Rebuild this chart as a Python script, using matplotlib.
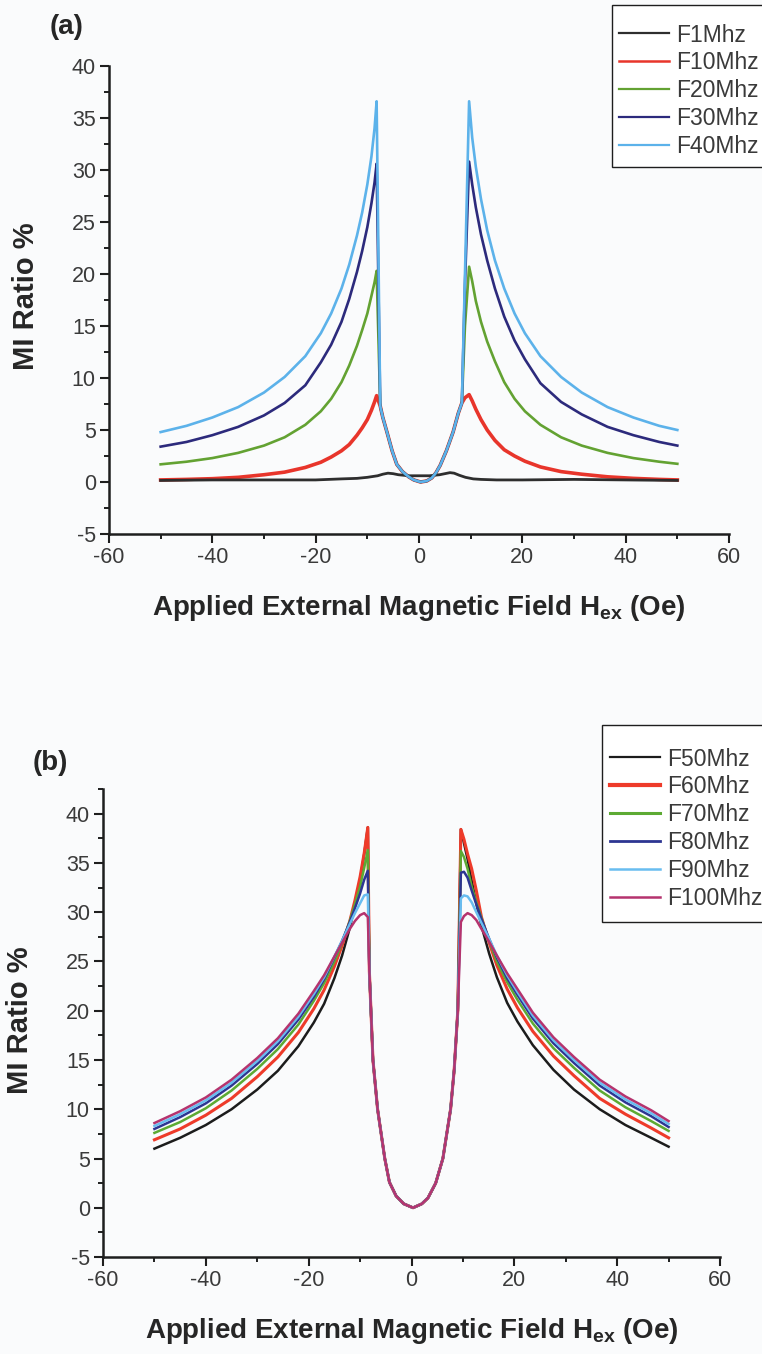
import matplotlib
matplotlib.use("Agg")
import matplotlib.pyplot as plt
from matplotlib.ticker import MultipleLocator
from matplotlib.lines import Line2D
from matplotlib.patches import Rectangle

plt.rcParams["font.family"] = ["Liberation Sans", "DejaVu Sans"]
plt.rcParams["axes.unicode_minus"] = False
plt.rcParams["mathtext.fontset"] = "custom"
plt.rcParams["mathtext.rm"] = "Liberation Sans"
plt.rcParams["mathtext.bf"] = "Liberation Sans:bold"

# ---------------- panel (a): 1-40 MHz ----------------
a_labels = ["F1Mhz", "F10Mhz", "F20Mhz", "F30Mhz", "F40Mhz"]
a_colors = ["#2e2e2e", "#e8352b", "#63a232", "#2c2a7c", "#5cb2ea"]

# left wing, central dip and right wing field values (Oe)
a_left_x = [-50, -45, -40, -35, -30, -26, -22, -19, -17, -15, -13.5, -12, -11, -10, -9.2, -8.6, -8.2]
a_dip_x = [-7.5, -7.0, -6.2, -5.2, -4.3, -3.2, -2.0, -1.0, 0.3, 1.5, 2.5, 3.3, 4.1, 5.3, 6.6, 7.6, 8.3]
a_right_x = [8.9, 9.7, 10.3, 11.0, 12.0, 13.2, 14.7, 16.5, 18.5, 20.5, 23.5, 27.5, 31.5, 36.5, 41.5, 46.5, 50]

a_dip = [7.3, 6.2, 4.8, 3.0, 1.7, 1.0, 0.5, 0.2, 0.0, 0.1, 0.4, 0.9, 1.6, 3.0, 4.8, 6.6, 7.6]

f10_left = [0.2, 0.25, 0.32, 0.45, 0.7, 0.95, 1.4, 1.9, 2.4, 3.0, 3.6, 4.5, 5.2, 6.0, 6.9, 7.7, 8.3]
f20_left = [1.7, 1.95, 2.3, 2.8, 3.5, 4.3, 5.5, 6.8, 8.0, 9.6, 11.2, 13.1, 14.6, 16.2, 17.9, 19.2, 20.3]
f30_left = [3.4, 3.85, 4.5, 5.3, 6.4, 7.6, 9.3, 11.5, 13.2, 15.4, 17.6, 20.2, 22.2, 24.5, 26.8, 28.8, 30.6]
f40_left = [4.8, 5.4, 6.2, 7.2, 8.6, 10.1, 12.1, 14.3, 16.2, 18.6, 20.9, 23.7, 25.9, 28.6, 31.3, 34.0, 36.6]

f10_right = [8.1, 8.4, 7.8, 7.0, 6.0, 5.0, 4.0, 3.1, 2.5, 2.0, 1.45, 1.0, 0.75, 0.5, 0.35, 0.25, 0.2]
f20_right = [15.0, 20.7, 19.3, 17.4, 15.4, 13.5, 11.6, 9.6, 8.0, 6.8, 5.5, 4.3, 3.5, 2.8, 2.3, 1.95, 1.75]
f30_right = [19.0, 30.8, 28.6, 26.4, 23.8, 21.3, 18.6, 15.9, 13.6, 11.8, 9.5, 7.7, 6.5, 5.3, 4.5, 3.85, 3.5]
f40_right = [20.0, 36.6, 33.1, 30.3, 27.2, 24.2, 21.3, 18.6, 16.2, 14.3, 12.1, 10.1, 8.6, 7.2, 6.2, 5.4, 5.0]

# the 1 MHz trace is flat with two small shoulders
f1_x = [-50, -40, -30, -20, -15, -12, -10, -8, -7, -6, -5, -4, -2, 0, 2, 4, 5, 6,
        6.8, 7.8, 9, 10.5, 12, 15, 20, 30, 40, 50]
f1_y = [0.15, 0.2, 0.2, 0.2, 0.3, 0.35, 0.45, 0.6, 0.75, 0.85, 0.8, 0.7, 0.6, 0.6,
        0.6, 0.7, 0.8, 0.9, 0.85, 0.65, 0.45, 0.3, 0.25, 0.2, 0.2, 0.25, 0.2, 0.15]

# ---------------- panel (b): 50-100 MHz ----------------
b_labels = ["F50Mhz", "F60Mhz", "F70Mhz", "F80Mhz", "F90Mhz", "F100Mhz"]
b_colors = ["#1c1c1c", "#ee3b2a", "#5daa33", "#2d3592", "#69bdf0", "#b5336e"]

b_left_x = [-50, -45, -40, -35, -30, -26, -22, -19, -17, -15, -13.5, -12, -11, -10, -9.2, -8.5]
b_dip_x = [-8.2, -7.5, -6.6, -5.2, -4.3, -3.0, -1.5, 0.3, 2.0, 3.2, 4.7, 6.1, 7.6, 8.3, 9.0]
b_right_x = [9.6, 10.2, 10.9, 11.7, 12.6, 13.6, 15.1, 16.6, 18.6, 20.6, 23.6, 27.6, 31.6, 36.6, 41.6, 46.6, 50]

b_dip = [24, 15, 10, 5, 2.6, 1.2, 0.4, 0.0, 0.4, 1.0, 2.5, 5.0, 10.0, 14.0, 20.0]

f50_left = [6.0, 7.1, 8.4, 10.0, 12.0, 13.9, 16.4, 18.8, 20.7, 23.3, 25.6, 28.4, 30.7, 33.3, 35.9, 38.6]
f60_left = [6.9, 8.0, 9.4, 11.1, 13.3, 15.3, 17.8, 20.2, 22.1, 24.5, 26.6, 29.1, 31.2, 33.6, 36.0, 38.6]
f70_left = [7.6, 8.7, 10.1, 11.9, 14.1, 16.1, 18.6, 21.0, 22.8, 25.0, 26.9, 29.1, 30.8, 32.6, 34.5, 36.3]
f80_left = [8.0, 9.2, 10.6, 12.4, 14.6, 16.6, 19.1, 21.4, 23.2, 25.4, 27.1, 29.0, 30.4, 31.9, 33.3, 34.2]
f90_left = [8.3, 9.5, 10.9, 12.7, 14.9, 16.9, 19.4, 21.7, 23.4, 25.5, 27.1, 28.8, 29.9, 30.9, 31.7, 31.8]
f100_left = [8.6, 9.8, 11.2, 13.0, 15.2, 17.2, 19.7, 22.0, 23.6, 25.5, 26.9, 28.3, 29.1, 29.7, 29.9, 29.5]

f50_right = [38.4, 37.0, 35.4, 33.2, 30.9, 28.6, 25.8, 23.4, 20.8, 18.9, 16.5, 14.0, 12.0, 10.0, 8.4, 7.1, 6.2]
f60_right = [38.4, 37.4, 35.9, 34.4, 32.2, 29.5, 26.9, 24.6, 22.2, 20.3, 17.9, 15.4, 13.4, 11.1, 9.5, 8.1, 7.1]
f70_right = [36.2, 35.6, 34.4, 32.6, 31.0, 29.4, 27.1, 25.0, 22.9, 21.1, 18.7, 16.2, 14.2, 11.9, 10.2, 8.8, 7.8]
f80_right = [34.0, 34.1, 33.5, 32.2, 30.8, 29.3, 27.3, 25.4, 23.3, 21.6, 19.2, 16.7, 14.7, 12.4, 10.7, 9.3, 8.2]
f90_right = [31.4, 31.7, 31.6, 31.0, 30.0, 28.9, 27.3, 25.6, 23.6, 21.9, 19.5, 17.0, 15.0, 12.7, 11.0, 9.6, 8.5]
f100_right = [29.0, 29.6, 29.9, 29.7, 29.2, 28.3, 27.0, 25.6, 23.8, 22.2, 19.8, 17.3, 15.3, 13.0, 11.3, 9.9, 8.8]

XLABEL = r"Applied External Magnetic Field H$_{\mathbf{ex}}$ (Oe)"
YLABEL = "MI Ratio %"
TEXT = "#262626"
TICKTEXT = "#3a3a3a"

W, H = 762, 1354
fig = plt.figure(figsize=(W / 100, H / 100), dpi=100)
fig.patch.set_facecolor("#fafbfc")

ax_a = fig.add_axes([0.1430, 0.6056, 0.8137, 0.3457])
ax_b = fig.add_axes([0.1352, 0.0716, 0.8097, 0.3457])


def style_axes(ax, ymax):
    ax.set_facecolor("none")
    ax.set_xlim(-60, 60)
    ax.set_ylim(-5, ymax)
    for side in ("top", "right"):
        ax.spines[side].set_visible(False)
    for side in ("left", "bottom"):
        ax.spines[side].set_linewidth(1.8)
        ax.spines[side].set_color("#1e1e1e")
    ax.xaxis.set_major_locator(MultipleLocator(20))
    ax.xaxis.set_minor_locator(MultipleLocator(10))
    ax.yaxis.set_major_locator(MultipleLocator(5))
    ax.yaxis.set_minor_locator(MultipleLocator(2.5))
    ax.tick_params(which="major", direction="out", length=6.5, width=1.5,
                   color="#1e1e1e", labelsize=15.5, labelcolor=TICKTEXT, pad=3)
    ax.tick_params(which="minor", direction="out", length=3.5, width=1.4,
                   color="#1e1e1e")


style_axes(ax_a, 40)
style_axes(ax_b, 42.5)

# panel (a) curves
a_x = a_left_x + a_dip_x + a_right_x
ax_a.plot(a_x, f10_left + a_dip + f10_right, color=a_colors[1], lw=2.6, zorder=2)
ax_a.plot(f1_x, f1_y, color=a_colors[0], lw=2.0, zorder=3)
ax_a.plot(a_x, f20_left + a_dip + f20_right, color=a_colors[2], lw=1.9, zorder=4)
ax_a.plot(a_x, f30_left + a_dip + f30_right, color=a_colors[3], lw=1.9, zorder=5)
ax_a.plot(a_x, f40_left + a_dip + f40_right, color=a_colors[4], lw=1.9, zorder=6)

# panel (b) curves
b_x = b_left_x + b_dip_x + b_right_x
b_sets = [(f50_left, f50_right), (f60_left, f60_right), (f70_left, f70_right),
          (f80_left, f80_right), (f90_left, f90_right), (f100_left, f100_right)]
for i, (left_vals, right_vals) in enumerate(b_sets):
    ax_b.plot(b_x, left_vals + b_dip + right_vals, color=b_colors[i],
              lw=2.2 if i == 1 else 1.8, zorder=2 + i)


def add_legend(ax, labels, colors, widths, box, entry_xy):
    """Framed legend: box = (left, top, bottom) in pixels, entry_xy = first handle start/centre."""
    left, top, bottom = box
    # frame sits underneath the (transparent) axes so the entries stay on top
    frame = Rectangle((left / W, 1 - bottom / H), (W + 10 - left) / W, (bottom - top) / H,
                      transform=fig.transFigure, facecolor="white",
                      edgecolor="#1e1e1e", linewidth=1.0, zorder=-1)
    fig.add_artist(frame)
    handles = [Line2D([], [], color=c, lw=w) for c, w in zip(colors, widths)]
    leg = ax.legend(handles, labels, loc="upper left",
                    bbox_to_anchor=(entry_xy[0] / W, 1 - (entry_xy[1] - 11.5) / H),
                    bbox_transform=fig.transFigure, fontsize=16.5,
                    frameon=False, borderpad=0.0,
                    handlelength=2.2, handletextpad=0.3, labelspacing=0.21,
                    borderaxespad=0.0)
    for t in leg.get_texts():
        t.set_color(TICKTEXT)
    leg.set_zorder(20)


add_legend(ax_a, a_labels, a_colors, [1.6, 1.8, 1.6, 1.6, 1.6],
           (612, 5, 167), (619, 35))
add_legend(ax_b, b_labels, b_colors, [1.6, 3.0, 2.2, 2.0, 1.8, 1.8],
           (602, 725, 922), (610, 759))

# axis titles and panel tags
fig.text(419 / W, 1 - 615 / H, XLABEL, ha="center", va="baseline",
         fontsize=20, fontweight="bold", color=TEXT)
fig.text(412 / W, 1 - 1338 / H, XLABEL, ha="center", va="baseline",
         fontsize=20, fontweight="bold", color=TEXT)
fig.text(26 / W, 1 - 296 / H, YLABEL, ha="center", va="center",
         rotation=90, fontsize=21, fontweight="bold", color=TEXT)
fig.text(20 / W, 1 - 1020 / H, YLABEL, ha="center", va="center",
         rotation=90, fontsize=21, fontweight="bold", color=TEXT)
fig.text(50 / W, 1 - 27 / H, "(a)", ha="left", va="center",
         fontsize=20, fontweight="bold", color=TEXT)
fig.text(33 / W, 1 - 763 / H, "(b)", ha="left", va="center",
         fontsize=20, fontweight="bold", color=TEXT)

fig.savefig("out.png", dpi=100, facecolor=fig.get_facecolor())
